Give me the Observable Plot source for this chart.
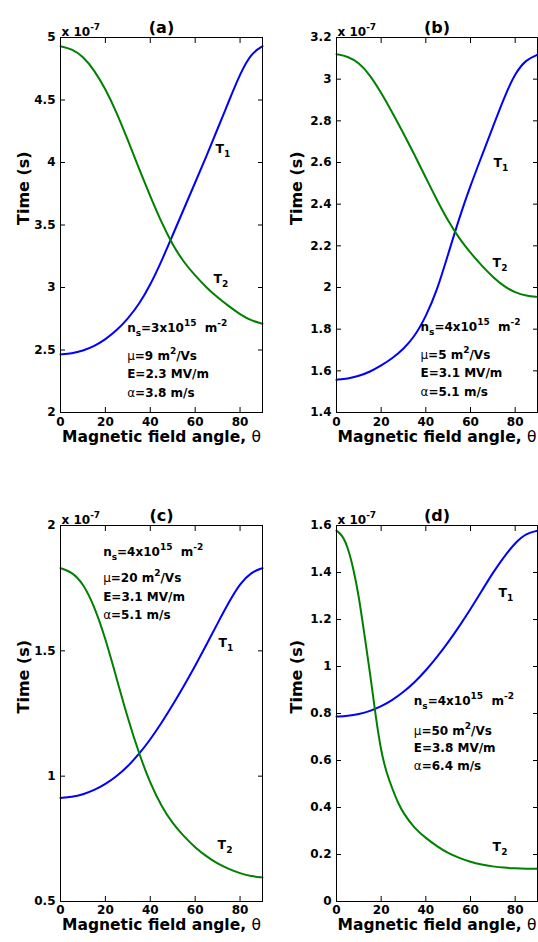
<!DOCTYPE html>
<html><head><meta charset="utf-8">
<script src="https://cdn.jsdelivr.net/npm/d3@7"></script>
<script src="https://cdn.jsdelivr.net/npm/@observablehq/plot@0.6"></script>
<style>
body{margin:0;background:#fff;}
#fig{position:relative;width:538px;height:942px;overflow:hidden;background:#fff;}
#fig svg{position:absolute;}
</style></head><body><div id="fig"></div>
<script>
// ---- data (time values in units of 1e-7 s) ----
const angles = [0,5,10,15,20,25,30,35,40,45,50,55,60,65,70,75,80,85,90];
const anglesFineD = [0,2.5,5,7.5,10,12.5,15,17.5,20,22.5,25,27.5,30,35,40,45,50,55,60,65,70,75,80,85,90];

const t1A = [2.465,2.472,2.494,2.53,2.585,2.655,2.75,2.865,3.02,3.21,3.42,3.63,3.84,4.05,4.27,4.49,4.71,4.875,4.93];
const t2A = [4.93,4.91,4.85,4.74,4.59,4.40,4.18,3.95,3.73,3.52,3.34,3.20,3.095,3.00,2.92,2.85,2.785,2.735,2.71];

const t1B = [1.557,1.562,1.575,1.595,1.625,1.66,1.705,1.765,1.86,1.985,2.16,2.335,2.49,2.63,2.77,2.91,3.03,3.095,3.117];
const t2B = [3.12,3.11,3.08,3.02,2.935,2.84,2.74,2.635,2.527,2.419,2.319,2.234,2.166,2.105,2.05,2.005,1.975,1.96,1.955];

const t1C = [0.913,0.917,0.927,0.944,0.968,0.999,1.039,1.088,1.146,1.212,1.284,1.36,1.44,1.524,1.61,1.694,1.769,1.814,1.83];
const t2C = [1.83,1.815,1.77,1.68,1.55,1.39,1.23,1.09,0.97,0.88,0.81,0.76,0.715,0.68,0.65,0.63,0.612,0.60,0.596];

const t1D = [0.787,0.79,0.797,0.81,0.83,0.857,0.891,0.933,0.983,1.04,1.103,1.171,1.244,1.321,1.399,1.467,1.527,1.567,1.578];
const t2D = [1.578,1.56,1.51,1.42,1.30,1.135,0.975,0.79,0.635,0.545,0.48,0.42,0.375,0.31,0.27,0.235,0.205,0.185,0.168,0.157,0.149,0.144,0.141,0.139,0.139];

const xTicks = [0,20,40,60,80];
const yTicksA = [2,2.5,3,3.5,4,4.5,5];
const yTicksB = [1.4,1.6,1.8,2,2.2,2.4,2.6,2.8,3,3.2];
const yTicksC = [0.5,1,1.5,2];
const yTicksD = [0,0.2,0.4,0.6,0.8,1,1.2,1.4,1.6];

const panelTitles = ["(a)","(b)","(c)","(d)"];
const scaleLabel = "x 10^{-7}";
const yLabel = "Time (s)";
const xLabel = "Magnetic field angle, ~{θ}";
const seriesLabels = ["T_{1}","T_{2}"];

const annotA = ["n_{s}=3x10^{15}  m^{-2}","~{μ}=9 m^{2}/Vs","E=2.3 MV/m","~{α}=3.8 m/s"];
const annotB = ["n_{s}=4x10^{15}  m^{-2}","~{μ}=5 m^{2}/Vs","E=3.1 MV/m","~{α}=5.1 m/s"];
const annotC = ["n_{s}=4x10^{15}  m^{-2}","~{μ}=20 m^{2}/Vs","E=3.1 MV/m","~{α}=5.1 m/s"];
const annotD = ["n_{s}=4x10^{15}  m^{-2}","~{μ}=50 m^{2}/Vs","E=3.8 MV/m","~{α}=6.4 m/s"];

// ---- drawing ----
const SVGNS = "http://www.w3.org/2000/svg";
function rich(svg) {
  svg.querySelectorAll("text").forEach(t => {
    const s = t.textContent;
    if (!/[_^~]\{/.test(s)) return;
    while (t.firstChild) t.removeChild(t.firstChild);
    const re = /([_^~])\{([^}]*)\}/g;
    let last = 0, m, shift = 0;
    const add = (txt, dy, size, weight) => {
      const ts = document.createElementNS(SVGNS, "tspan");
      ts.textContent = txt;
      if (dy) ts.setAttribute("dy", dy);
      if (size) ts.setAttribute("font-size", size);
      if (weight) ts.setAttribute("font-weight", weight);
      t.appendChild(ts);
    };
    while ((m = re.exec(s))) {
      if (m.index > last) { add(s.slice(last, m.index), -shift); shift = 0; }
      if (m[1] === "_") { add(m[2], 4 - shift, 9); shift = 4; }
      else if (m[1] === "^") { add(m[2], -6 - shift, 9); shift = -6; }
      else { add(m[2], -shift, null, "normal"); shift = 0; }
      last = re.lastIndex;
    }
    if (last < s.length) add(s.slice(last), -shift);
    t.setAttribute("xml:space", "preserve");
  });
}

function panel(cfg) {
  const rows1 = cfg.x1.map((x, i) => ({x, y: cfg.t1[i]}));
  const rows2 = cfg.x2.map((x, i) => ({x, y: cfg.t2[i]}));
  const svg = Plot.plot({
    width: 269, height: 471,
    marginLeft: cfg.mL, marginRight: cfg.mR, marginTop: cfg.mT, marginBottom: cfg.mB,
    style: {fontFamily: "DejaVu Sans", fontWeight: "bold", fontSize: "12px", color: "black", background: "white", overflow: "visible"},
    x: {domain: [0, 90], label: null},
    y: {domain: cfg.yDomain, label: null},
    marks: [
      Plot.line(rows1, {x: "x", y: "y", stroke: "#0000ff", strokeWidth: 2, curve: "basis"}),
      Plot.line(rows2, {x: "x", y: "y", stroke: "#008000", strokeWidth: 2, curve: "basis"}),
      Plot.frame({stroke: "black", strokeWidth: 1}),
      Plot.axisX(xTicks, {anchor: "bottom", tickSize: -5, tickPadding: cfg.xtPad, tickFormat: d => String(d), label: null}),
      Plot.axisX(xTicks, {anchor: "top", tickSize: -5, tickFormat: () => "", label: null}),
      Plot.axisY(cfg.yTicks, {anchor: "left", tickSize: -5, tickPadding: 10, tickFormat: d => String(d), label: null}),
      Plot.axisY(cfg.yTicks, {anchor: "right", tickSize: -5, tickFormat: () => "", label: null}),
      Plot.text([cfg.title], {text: d => d, frameAnchor: "top", dy: -16, fontSize: 16}),
      Plot.text([scaleLabel], {text: d => d, frameAnchor: "top-left", textAnchor: "start", dx: 1, dy: -10}),
      Plot.text([yLabel], {text: d => d, frameAnchor: "left", rotate: -90, dx: cfg.ylDx, fontSize: 16}),
      Plot.text([xLabel], {text: d => d, frameAnchor: "bottom", dy: cfg.xlDy, fontSize: 15.5}),
      Plot.text(cfg.annot, {text: d => d, x: cfg.annX, y: (d, i) => cfg.annY[i], textAnchor: "start"}),
      Plot.text([seriesLabels[0]], {text: d => d, x: cfg.lab1[0], y: cfg.lab1[1], textAnchor: "start", fontSize: 12.5}),
      Plot.text([seriesLabels[1]], {text: d => d, x: cfg.lab2[0], y: cfg.lab2[1], textAnchor: "start", fontSize: 12.5})
    ]
  });
  rich(svg);
  svg.style.left = cfg.left + "px";
  svg.style.top = cfg.top + "px";
  document.getElementById("fig").appendChild(svg);
}

panel({title: panelTitles[0], x1: angles, t1: t1A, x2: angles, t2: t2A, yDomain: [2, 5], yTicks: yTicksA,
  annot: annotA, annX: 29.7, annY: [2.678, 2.45, 2.306, 2.154], lab1: [69.1, 4.106], lab2: [68.2, 3.067],
  left: 0, top: 0, mL: 60, mR: 7, mT: 37, mB: 59, ylDx: -37, xlDy: 29, xtPad: 10});
panel({title: panelTitles[1], x1: angles, t1: t1B, x2: angles, t2: t2B, yDomain: [1.4, 3.2], yTicks: yTicksB,
  annot: annotB, annX: 37.6, annY: [1.81, 1.675, 1.587, 1.496], lab1: [70.3, 2.60], lab2: [69.9, 2.12],
  left: 269, top: 0, mL: 67, mR: 1, mT: 37, mB: 59, ylDx: -40, xlDy: 29, xtPad: 10});
panel({title: panelTitles[2], x1: angles, t1: t1C, x2: angles, t2: t2C, yDomain: [0.5, 2], yTicks: yTicksC,
  annot: annotC, annX: 19.0, annY: [1.892, 1.79, 1.713, 1.642], lab1: [70.4, 1.53], lab2: [70.0, 0.724],
  left: 0, top: 471, mL: 60, mR: 7, mT: 54, mB: 41, ylDx: -37, xlDy: 28, xtPad: 9});
panel({title: panelTitles[3], x1: angles, t1: t1D, x2: anglesFineD, t2: t2D, yDomain: [0, 1.6], yTicks: yTicksD,
  annot: annotD, annX: 34.6, annY: [0.853, 0.725, 0.654, 0.576], lab1: [72.5, 1.311], lab2: [69.9, 0.231],
  left: 269, top: 471, mL: 67, mR: 1, mT: 54, mB: 41, ylDx: -40, xlDy: 28, xtPad: 9});
</script></body></html>
